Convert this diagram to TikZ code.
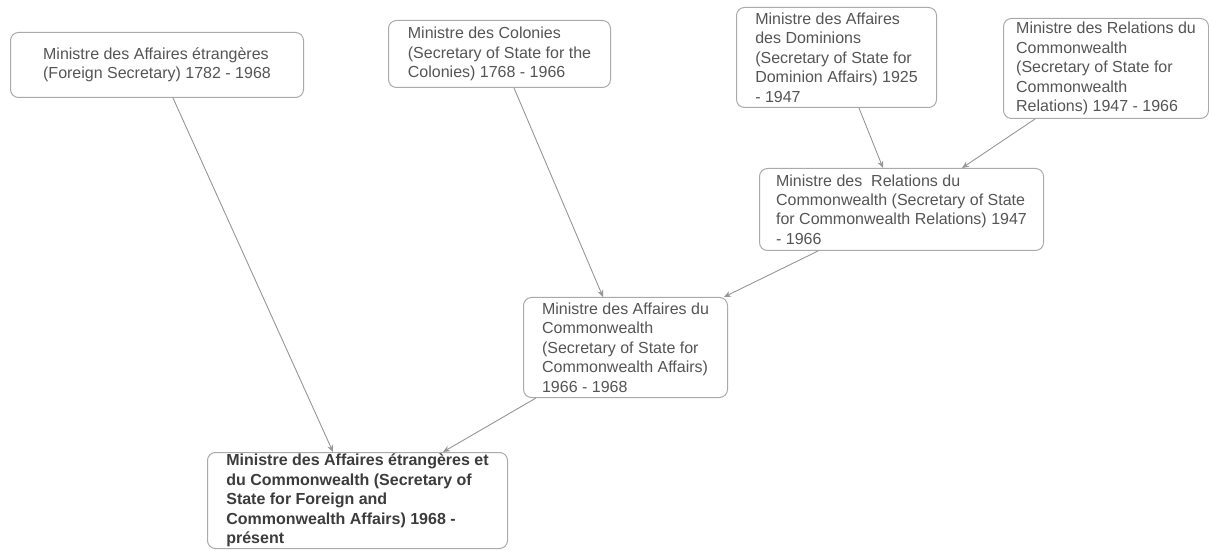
\documentclass[tikz,border=0pt]{standalone}
\usepackage{fontspec}
\setmainfont{Liberation Sans}
\usetikzlibrary{arrows.meta,calc}
\definecolor{boxline}{RGB}{170,170,170}
\definecolor{txt}{RGB}{85,85,85}
\definecolor{txtb}{RGB}{60,60,60}
\definecolor{arr}{RGB}{150,150,150}
\begin{document}
\begin{tikzpicture}[x=0.5pt,y=-0.5pt,
  box/.style={draw=boxline,line width=0.5pt,rounded corners=4pt,fill=white,
    align=left,anchor=north west,inner sep=0pt,text=txt,
    font=\fontsize{8pt}{9.7pt}\selectfont},
  conn/.style={draw=arr,line width=0.45pt,-{Stealth[length=3.5pt,width=3pt]}}]
\useasboundingbox (0,0) rectangle (1209,550);
\node[box,minimum width=146.5pt,minimum height=32.5pt] (b1) at (10,32)
  {Ministre des Affaires étrangères\\(Foreign Secretary) 1782 - 1968};
\node[box,minimum width=111pt,minimum height=33.5pt] (b2) at (388,20)
  {Ministre des Colonies\\(Secretary of State for the\\Colonies) 1768 - 1966};
\node[box,minimum width=100pt,minimum height=50pt] (b3) at (736,7)
  {Ministre des Affaires\\des Dominions\\(Secretary of State for\\Dominion Affairs) 1925\\- 1947};
\node[box,minimum width=102.5pt,minimum height=50pt] (b4) at (1003,18)
  {Ministre des Relations du\\Commonwealth\\(Secretary of State for\\Commonwealth\\Relations) 1947 - 1966};
\node[box,minimum width=142pt,minimum height=41pt] (b5) at (759,168)
  {Ministre des~ Relations du\\Commonwealth (Secretary of State\\for Commonwealth Relations) 1947\\- 1966};
\node[box,minimum width=102pt,minimum height=50pt] (b6) at (523,297)
  {Ministre des Affaires du\\Commonwealth\\(Secretary of State for\\Commonwealth Affairs)\\1966 - 1968};
\node[box,minimum width=150pt,minimum height=48pt,text=txtb,
  font=\fontsize{8pt}{9.7pt}\selectfont\bfseries] (b7) at (207,452)
  {Ministre des Affaires étrangères et\\du Commonwealth (Secretary of\\State for Foreign and\\Commonwealth Affairs) 1968 -\\présent};
\draw[conn] ($(b1.south west)+(163,0)$) -- ($(b7.north west)+(126,0)$);
\draw[conn] ($(b2.south west)+(126,0)$) -- ($(b6.north west)+(80,0)$);
\draw[conn] ($(b3.south west)+(123,0)$) -- ($(b5.north west)+(124,0)$);
\draw[conn] ($(b4.south west)+(32,0)$) -- ($(b5.north west)+(203,0)$);
\draw[conn] ($(b5.south west)+(59,0)$) -- ($(b6.north west)+(201,0)$);
\draw[conn] ($(b6.south west)+(13,0)$) -- ($(b7.north west)+(236,0)$);
\end{tikzpicture}
\end{document}
